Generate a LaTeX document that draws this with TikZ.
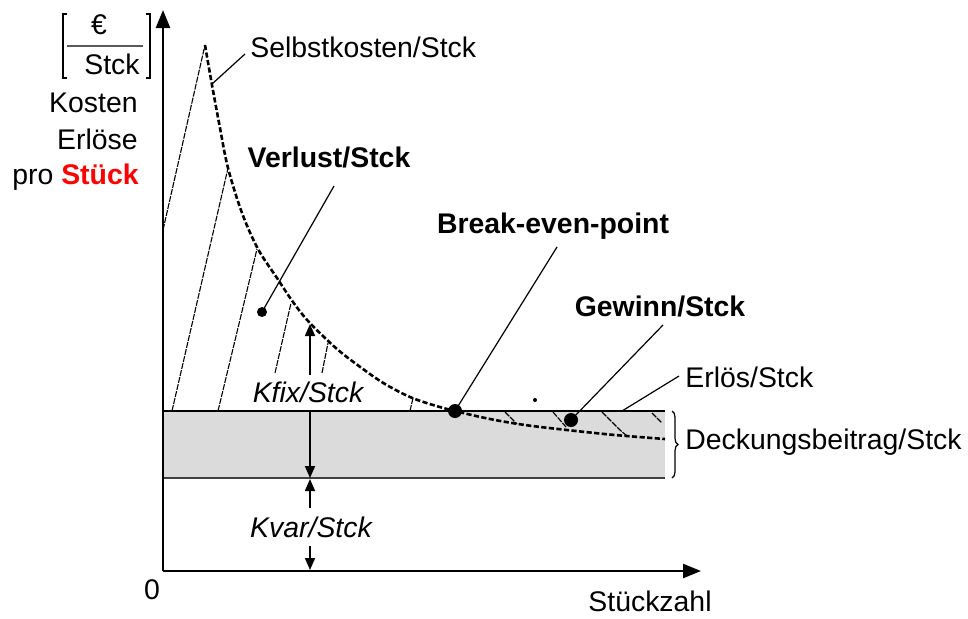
\documentclass[tikz,border=0pt]{standalone}
\usepackage{fontspec}
\setmainfont{Liberation Sans}
\usetikzlibrary{arrows.meta,decorations.pathreplacing}
\begin{document}
\begin{tikzpicture}[x=0.5pt,y=-0.5pt,
  font=\fontsize{14.2}{17}\selectfont,
  axisline/.style={line width=1.25pt,-{Triangle[length=9pt,width=7pt]}},
  hatchline/.style={line width=0.55pt,dash pattern=on 3pt off 0.6pt},
  leader/.style={line width=0.6pt},
  costcurve/.style={line width=1.3pt,dash pattern=on 2.6pt off 1.2pt},
  dimarrow/.style={line width=0.8pt,-{Triangle[length=6pt,width=5pt]}},
  lbl/.style={inner sep=0pt},
  blbl/.style={inner sep=0pt,font=\fontsize{14.2}{17}\selectfont\bfseries},
  dotmark/.style={fill=black,circle,inner sep=0pt}]
\useasboundingbox (0,0) rectangle (968,618);

% key coordinates
\coordinate (O) at (163,571);
\coordinate (ytip) at (163,10);
\coordinate (xtip) at (701,571);
\coordinate (EL) at (163,411);
\coordinate (ER) at (665,411);
\coordinate (VL) at (163,478);
\coordinate (VR) at (665,478);
\coordinate (peak) at (205,45);
\coordinate (be) at (455,411);
\coordinate (gw) at (571,420);
\coordinate (vl) at (262,312);

% gray contribution margin area
\fill[black!14] (EL) rectangle (VR);
\draw[line width=0.8pt,black!75] (VL) -- (VR);
\draw[line width=1pt] (EL) -- (ER);

% hatching
\draw[hatchline] (163,230) -- (peak);
\draw[hatchline] (172,411) -- (228,168);
\draw[hatchline] (218,411) -- (257,249);
\draw[hatchline] (275,373) -- (291,303);
\draw[hatchline] (322,373) -- (328,343);
\draw[hatchline] (410,411) -- (413,398);
\draw[hatchline] (505,412) -- (517,424);
\draw[hatchline] (553,412) -- (566,427);
\draw[hatchline] (602,412) -- (620,430) -- (627,436);
\draw[hatchline] (652,413) -- (662,423);
\fill (535,400) circle (1pt);

% cost per unit curve
\draw[costcurve] plot[smooth,tension=0.55] coordinates {
 (205,45) (212,85) (220,128) (228,168) (242,213) (258,249) (277,278)
 (293,302) (309,322) (337,349) (363,369) (385,384) (410,397) (433,405)
 (455,411) (490,419) (525,425) (567,430) (615,435) (665,439)};

% axes
\draw[axisline] (O) -- (ytip);
\draw[axisline] (O) -- (xtip);

% dots
\node[dotmark,minimum size=7pt] (bedot) at (be) {};
\node[dotmark,minimum size=7pt] (gwdot) at (gw) {};
\node[dotmark,minimum size=5pt] (vldot) at (vl) {};

% labels
\node[lbl,anchor=west] (sk) at (250,47) {Selbstkosten/Stck};
\node[blbl] (verl) at (329,157) {Verlust/Stck};
\node[blbl] (bep) at (553,226) {Break-even-point};
\node[blbl] (gew) at (660,306) {Gewinn/Stck};
\node[lbl,anchor=west] (erl) at (685,377) {Erlös/Stck};
\node[lbl,anchor=west] (db) at (685,442) {Deckungsbeitrag/Stck};
\node[lbl] (kfix) at (308,392) {\itshape Kfix/Stck};
\node[lbl] (kvar) at (311,527) {\itshape Kvar/Stck};
\node[lbl] (zero) at (152,590) {0};
\node[lbl] (sz) at (650,601) {Stückzahl};
\node[lbl,anchor=east] (kos) at (138,103) {Kosten};
\node[lbl,anchor=east] (erloese) at (138,139) {Erlöse};
\node[lbl,anchor=east] (pro) at (139,177) {pro \textcolor{red}{\bfseries Stück}};
\node[lbl] (euro) at (99,25) {€};
\node[lbl] (stck) at (112,64) {Stck};

% unit bracket
\draw[line width=1pt] (67,14) -- (63,14) -- (63,78) -- (67,78);
\draw[line width=1pt] (146,14) -- (150,14) -- (150,78) -- (146,78);
\draw[line width=0.8pt,black!65] (67,46) -- (143,46);

% leaders
\coordinate (skA) at (212,84);
\coordinate (skB) at (245,54);
\draw[leader] (skA) -- (skB);
\coordinate (vlB) at (334,186);
\draw[leader] (vldot.center) -- (vlB);
\coordinate (beB) at (557,247);
\draw[leader] (bedot.center) -- (beB);
\coordinate (gwB) at (663,325);
\draw[leader] (gwdot.center) -- (gwB);
\coordinate (erA) at (622,411);
\coordinate (erB) at (679,376);
\draw[leader] (erA) -- (erB);

% dimension arrows
\coordinate (kfA) at (310,375);
\coordinate (kfB) at (310,324);
\draw[dimarrow] (kfA) -- (kfB);
\coordinate (kfC) at (310,411);
\coordinate (kfD) at (310,478);
\draw[dimarrow] (kfC) -- (kfD);
\coordinate (kvA) at (310,508);
\coordinate (kvB) at (310,479);
\draw[dimarrow] (kvA) -- (kvB);
\coordinate (kvC) at (310,546);
\coordinate (kvD) at (310,570);
\draw[dimarrow] (kvC) -- (kvD);

% brace
\draw[line width=0.6pt,decorate,decoration={brace,amplitude=3pt}] (672,411) -- (672,478);
\end{tikzpicture}
\end{document}
